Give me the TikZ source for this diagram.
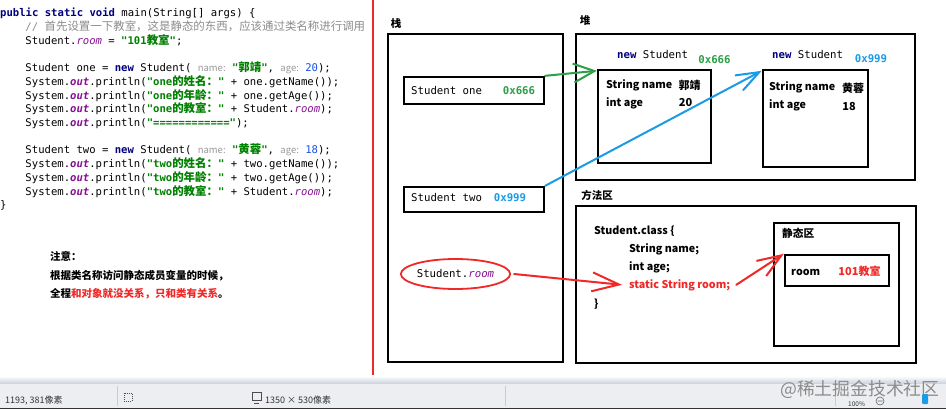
\documentclass[tikz,border=0pt]{standalone}
\usepackage{fontspec}
\setmainfont{Noto Sans CJK SC}
\setmonofont{DejaVu Sans Mono}
\newfontfamily\zhfont{Noto Sans CJK SC}
\newfontfamily\zhcode{Noto Sans CJK SC}[Scale=1.08]
\usetikzlibrary{arrows.meta,positioning,shapes.geometric}
\definecolor{kwblue}{HTML}{000080}
\definecolor{strgreen}{HTML}{008000}
\definecolor{fldpurple}{HTML}{871094}
\definecolor{cmtgray}{HTML}{8C8C8C}
\definecolor{hintgray}{HTML}{999999}
\definecolor{numblue}{HTML}{1750EB}
\definecolor{addrgreen}{HTML}{2E9E48}
\definecolor{addrblue}{HTML}{1A9BE8}
\definecolor{inkgreen}{HTML}{2E9E48}
\definecolor{inkblue}{HTML}{1A9BE6}
\definecolor{penred}{HTML}{F02828}
\definecolor{barbg}{HTML}{ECEEF1}
\definecolor{bartop}{HTML}{C9CFD9}
\newcommand\zh[1]{{\zhcode #1}}
\newcommand\kw[1]{\textcolor{kwblue}{\bfseries #1}}
\newcommand\str[1]{\textcolor{strgreen}{\bfseries #1}}
\newcommand\fld[1]{\textcolor{fldpurple}{\itshape #1}}
\newcommand\fldb[1]{\textcolor{fldpurple}{\bfseries\itshape #1}}
\newcommand\hint[1]{\textcolor{hintgray}{\zhfont\fontsize{9.5}{10}\selectfont #1}}
\newcommand\num[1]{\textcolor{numblue}{#1}}
\newcommand\ind{\hspace*{25.3pt}}
\tikzset{
    code line/.style={anchor=base west, inner sep=0pt, font=\fontsize{10.6}{12}\selectfont\ttfamily},
    note line/.style={anchor=base west, inner sep=0pt, font=\fontsize{10.5}{12}\selectfont\bfseries},
    region/.style={draw=black, line width=2.6pt, inner sep=0pt},
    cell/.style={draw=black, line width=2.4pt, inner sep=0pt},
    area title/.style={anchor=base, inner sep=0pt, font=\fontsize{10.5}{12}\selectfont\bfseries},
    var/.style={anchor=base west, inner sep=0pt, font=\fontsize{10.7}{12}\selectfont\ttfamily},
    addr/.style={anchor=base, inner sep=0pt, font=\fontsize{10.7}{12}\selectfont\ttfamily\bfseries},
    member/.style={anchor=base west, inner sep=0pt, font=\fontsize{10.7}{12}\selectfont\bfseries},
    value/.style={anchor=base, inner sep=0pt, font=\fontsize{11}{12}\selectfont\bfseries},
    pen/.style={line width=2pt, line cap=round},
    divider/.style={draw=penred, line width=1.5pt},
    bar text/.style={anchor=base west, inner sep=0pt, font=\fontsize{9}{10}\selectfont, text=black!80},
    bar sep/.style={draw=black!20, line width=0.6pt}
}
\begin{document}
\begin{tikzpicture}[x=1pt, y=-1pt]
\fill[white] (0,0) rectangle (946,409);
\useasboundingbox (0,0) rectangle (946,409);

% code
\node[code line] (c1) at (0,17) {\kw{public static void} main(String[] args) \{};
\node[code line] (c2) at (0,30.7) {\ind\textcolor{cmtgray}{// \zh{首先设置一下教室，这是静态的东西，应该通过类名称进行调用}}};
\node[code line] (c3) at (0,44.4) {\ind Student.\fld{room} = \str{"101\zh{教室}"};};
\node[code line] (c4) at (0,71.8) {\ind Student one = \kw{new} Student( \hint{name:} \str{"\zh{郭靖}"}, \hint{age:} \num{20});};
\node[code line] (c5) at (0,85.5) {\ind System.\fldb{out}.println(\str{"one\zh{的姓名：}"} + one.getName());};
\node[code line] (c6) at (0,99.2) {\ind System.\fldb{out}.println(\str{"one\zh{的年龄：}"} + one.getAge());};
\node[code line] (c7) at (0,112.9) {\ind System.\fldb{out}.println(\str{"one\zh{的教室：}"} + Student.\fld{room});};
\node[code line] (c8) at (0,126.6) {\ind System.\fldb{out}.println(\str{"============"});};
\node[code line] (c9) at (0,154) {\ind Student two = \kw{new} Student( \hint{name:} \str{"\zh{黄蓉}"}, \hint{age:} \num{18});};
\node[code line] (c10) at (0,167.7) {\ind System.\fldb{out}.println(\str{"two\zh{的姓名：}"} + two.getName());};
\node[code line] (c11) at (0,181.4) {\ind System.\fldb{out}.println(\str{"two\zh{的年龄：}"} + two.getAge());};
\node[code line] (c12) at (0,195.1) {\ind System.\fldb{out}.println(\str{"two\zh{的教室：}"} + Student.\fld{room});};
\node[code line] (c13) at (0,208.8) {\}};

% note
\node[note line] (n1) at (50,261) {注意：};
\node[note line] (n2) at (50,279) {根据类名称访问静态成员变量的时候，};
\node[note line] (n3) at (50,297) {全程\textcolor{penred}{和对象就没关系，只和类有关系}。};

\draw[divider] (373,0) -- (373,375);

% stack
\node[area title] (stacklbl) at (396,28) {栈};
\node[region, minimum width=175pt, minimum height=328pt] (stack) at (475.5,198) {};
\node[cell, minimum width=140pt, minimum height=27pt] (one) at (474,90.5) {};
\node[var] (onevar) at (411,95) {Student one};
\node[addr, text=addrgreen] (oneaddr) at (519,95) {0x666};
\node[cell, minimum width=140pt, minimum height=25pt] (two) at (474,199.5) {};
\node[var] (twovar) at (411,202) {Student two};
\node[addr, text=addrblue] (twoaddr) at (510,202) {0x999};
\node[draw=penred, ellipse, line width=1.8pt, minimum width=103pt, minimum height=30pt, inner sep=0pt,
      font=\fontsize{10.7}{12}\selectfont\ttfamily] (sroom) at (455.5,274) {Student.\fld{room}};

% heap
\node[area title] (heaplbl) at (585,25) {堆};
\node[region, minimum width=339pt, minimum height=146pt] (heap) at (745.5,107) {};
\node[var] (newone) at (617,59) {\kw{new} Student};
\node[addr, text=addrgreen] (objoneaddr) at (714.5,64) {0x666};
\node[cell, minimum width=113pt, minimum height=93pt] (objone) at (654.5,116.5) {};
\node[member] (onename) at (606,89) {String name};
\node[value] (onenameval) at (689.5,90) {郭靖};
\node[member] (oneage) at (606,107) {int age};
\node[value] (oneageval) at (685.5,107) {20};
\node[var] (newtwo) at (772,59) {\kw{new} Student};
\node[addr, text=addrblue] (objtwoaddr) at (871,63) {0x999};
\node[cell, minimum width=105pt, minimum height=97pt] (objtwo) at (815.5,118.5) {};
\node[member] (twoname) at (769,91) {String name};
\node[value] (twonameval) at (853,93) {黄蓉};
\node[member] (twoage) at (769,109) {int age};
\node[value] (twoageval) at (849,111) {18};

% method area
\node[area title] (methodlbl) at (597,200) {方法区};
\node[region, minimum width=340pt, minimum height=157pt] (method) at (746,284.5) {};
\node[member] (cls) at (594,234) {Student.class \{};
\node[member] (clsname) at (629,252) {String name;};
\node[member] (clsage) at (629,270) {int age;};
\node[member, text=penred] (sfield) at (629,288) {static String room;};
\node[member] (clsend) at (594,307) {\}};
\node[cell, minimum width=125pt, minimum height=123pt] (static) at (836.5,284.5) {};
\node[member] (staticlbl) at (782,237) {静态区};
\node[cell, minimum width=104pt, minimum height=31pt] (roombox) at (837,270.5) {};
\node[member] (roomkey) at (791,276) {room};
\node[value, text=penred] (roomval) at (859.5,276) {101教室};

% pointers
\draw[pen, draw=inkgreen, -{Straight Barb[length=21pt,width=19pt]}] (one.north east) -- ([yshift=-2pt]objone.north west);
\draw[pen, draw=inkblue, -{Straight Barb[length=23pt,width=17pt]}] (two.north east) -- ([yshift=-2pt]objtwo.north west);
\draw[pen, draw=penred, -{Straight Barb[length=27pt,width=19pt]}] ([xshift=3pt]sroom.east) -- ([xshift=-7pt]sfield.west);
\draw[pen, draw=penred, -{Straight Barb[length=24pt,width=18pt]}] ([xshift=6pt]sfield.east) -- (roombox.north west);

% status bar
\shade[top color=white, bottom color=bartop] (0,376) rectangle (946,384);
\fill[barbg] (0,384) rectangle (946,409);
\draw[black!80, line width=1.2pt] (0,408.4) -- (946,408.4);
\node[bar text] (pos) at (5,403) {1193, 381像素};
\draw[bar sep] (117,386) -- (117,406);
\draw[black!70, line width=0.6pt, dash pattern=on 1pt off 1pt] (124,393) rectangle (132,401);
\draw[black!70, line width=0.6pt] (252,392) rectangle (261,400) (254,403) -- (259,403);
\node[bar text] (size) at (265,403) {1350 × 530像素};
\draw[bar sep] (505,386) -- (505,406);
\draw[bar sep] (835,386) -- (835,406);
\node[text=black!45, anchor=base west, inner sep=0pt, font=\fontsize{17.8}{18}\selectfont] (mark) at (780,395) {@稀土掘金技术社区};
\node[bar text, font=\fontsize{6.5}{7}\selectfont] (zoomval) at (848,406) {100\%};
\draw[black!60, line width=0.6pt] (880,401) circle (4pt) (877.5,401) -- (882.5,401);
\fill[inkblue, rounded corners=1pt] (922,394) rectangle (928,404);
\end{tikzpicture}
\end{document}
